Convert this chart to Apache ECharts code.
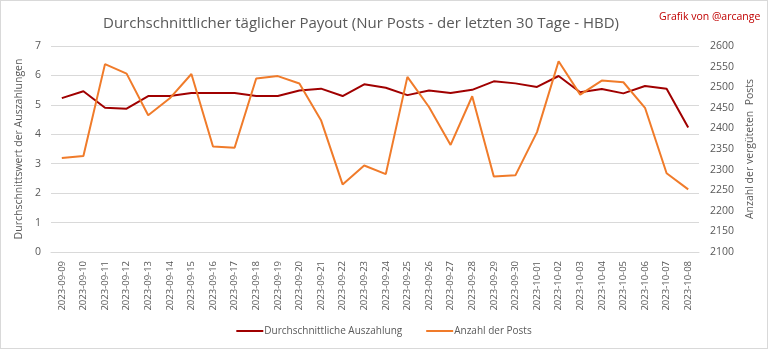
<!DOCTYPE html>
<html><head><meta charset="utf-8">
<script src="https://cdn.jsdelivr.net/npm/echarts@6/dist/echarts.min.js"></script>
<style>html,body{margin:0;padding:0;background:#fff}#c{width:768px;height:349px;box-sizing:border-box;border:1px solid #d9d9d9}</style>
</head><body><div id="c"></div>
<script>
const categories = ["2023-09-09","2023-09-10","2023-09-11","2023-09-12","2023-09-13","2023-09-14","2023-09-15","2023-09-16","2023-09-17","2023-09-18","2023-09-19","2023-09-20","2023-09-21","2023-09-22","2023-09-23","2023-09-24","2023-09-25","2023-09-26","2023-09-27","2023-09-28","2023-09-29","2023-09-30","2023-10-01","2023-10-02","2023-10-03","2023-10-04","2023-10-05","2023-10-06","2023-10-07","2023-10-08"];
const payout = [5.23,5.46,4.90,4.87,5.30,5.30,5.40,5.40,5.40,5.30,5.30,5.49,5.55,5.30,5.70,5.58,5.33,5.49,5.40,5.51,5.80,5.73,5.61,5.98,5.43,5.54,5.39,5.64,5.55,4.23];
const posts = [2328,2333,2556,2533,2432,2473,2532,2356,2353,2521,2527,2509,2420,2264,2310,2289,2525,2452,2360,2478,2283,2286,2391,2563,2482,2516,2512,2450,2291,2252];
const leftTicks = {min:0,max:7,interval:1};
const rightTicks = {min:2100,max:2600,interval:50};

const font = "'Open Sans', 'Noto Sans', sans-serif";
const chart = echarts.init(document.getElementById('c'), null, {renderer:'canvas'});
chart.setOption({
  animation:false,
  textStyle:{fontFamily:font},
  title:[{
    text:"Durchschnittlicher täglicher Payout (Nur Posts - der letzten 30 Tage - HBD)",
    left:355, top:10, textAlign:'center',
    textStyle:{fontFamily:font,fontSize:15,fontWeight:'normal',color:'#595959'}
  },{
    text:"Grafik von @arcange",
    left:653, top:6,
    textStyle:{fontFamily:font,fontSize:10.5,fontWeight:'normal',color:'#c00000'}
  }],
  grid:{left:50,right:68,top:45,bottom:96,containLabel:false},
  legend:{
    bottom:7, left:'center', itemGap:24, itemWidth:27, itemHeight:2, icon:'rect',
    textStyle:{fontFamily:font,fontSize:10,color:'#595959',padding:[0,0,0,-4]},
    data:["Durchschnittliche Auszahlung","Anzahl der Posts"]
  },
  xAxis:{
    type:'category', data:categories, boundaryGap:true,
    axisLine:{lineStyle:{color:'#d9d9d9'}}, axisTick:{show:false},
    axisLabel:{rotate:90, interval:0, fontSize:9.5, color:'#595959', margin:9, fontFamily:font}
  },
  yAxis:[{
    type:'value', min:leftTicks.min, max:leftTicks.max, interval:leftTicks.interval,
    name:"Durchschnittswert der Auszahlungen", nameLocation:'middle', nameGap:20, nameRotate:90,
    nameTextStyle:{fontSize:10.5,color:'#595959',fontFamily:font},
    axisLine:{show:false}, axisTick:{show:false},
    axisLabel:{fontSize:10.5,color:'#595959',margin:10,fontFamily:font},
    splitLine:{lineStyle:{color:'#d9d9d9'}}
  },{
    type:'value', min:rightTicks.min, max:rightTicks.max, interval:rightTicks.interval,
    name:"Anzahl der vergüteten  Posts", nameLocation:'middle', nameGap:44, nameRotate:90,
    nameTextStyle:{fontSize:10.5,color:'#595959',fontFamily:font},
    axisLine:{show:false}, axisTick:{show:false},
    axisLabel:{fontSize:10.5,color:'#595959',margin:11,fontFamily:font,formatter:(v)=>String(v)},
    splitLine:{show:false}
  }],
  series:[{
    name:"Durchschnittliche Auszahlung", type:'line', data:payout, yAxisIndex:0,
    symbol:'none', lineStyle:{color:'#a00000',width:2}, itemStyle:{color:'#a00000'}
  },{
    name:"Anzahl der Posts", type:'line', data:posts, yAxisIndex:1,
    symbol:'none', lineStyle:{color:'#f07b2a',width:2}, itemStyle:{color:'#f07b2a'}
  }]
});
</script></body></html>
